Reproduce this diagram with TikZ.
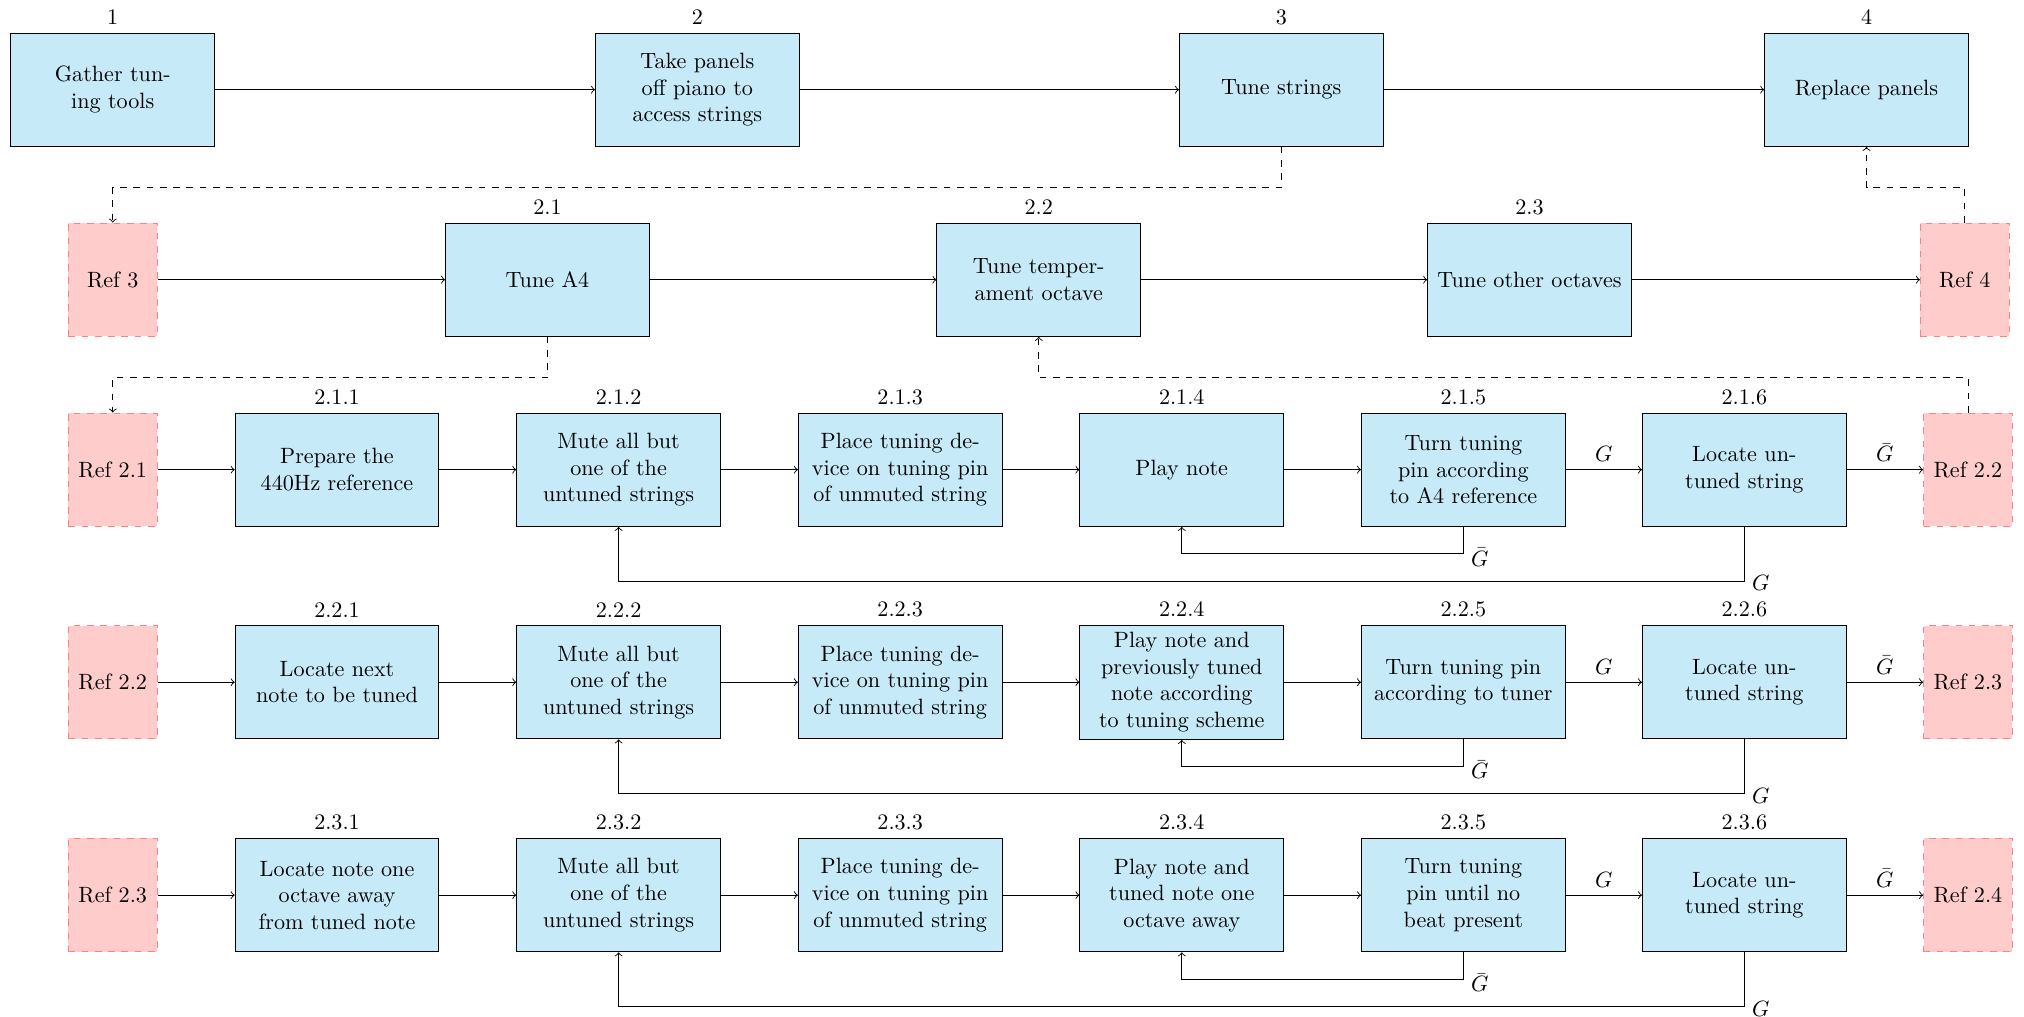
\documentclass[tikz,border=0pt]{standalone}
\usetikzlibrary{arrows}
\definecolor{stepblue}{RGB}{198,234,248}
\tikzset{
	stepbox/.style={draw=black, fill=stepblue, text width=3cm, align=center, minimum height=1.8cm},
	refbox/.style={draw=red!50, dashed, fill=red!20, minimum width=1.41cm, minimum height=1.8cm},
}
\begin{document}
\begin{tikzpicture}
		\useasboundingbox (0,0) rectangle (32.13,-16.13);
		% top level
		\node[stepbox, label=above:1] (n1) at (1.79,-1.424) {Gather tuning tools};
		\node[stepbox, label=above:2] (n2) at (11.07,-1.424) {Take panels off piano to access strings};
		\node[stepbox, label=above:3] (n3) at (20.34,-1.424) {Tune strings};
		\node[stepbox, label=above:4] (n4) at (29.63,-1.424) {Replace panels};
		\draw[->] (n1) -- (n2);
		\draw[->] (n2) -- (n3);
		\draw[->] (n3) -- (n4);
		% step 3
		\node[refbox] (r3) at (1.79,-4.44) {Ref 3};
		\node[stepbox, label=above:2.1] (n21) at (8.69,-4.44) {Tune A4};
		\node[stepbox, label=above:2.2] (n22) at (16.49,-4.44) {Tune temperament octave};
		\node[stepbox, label=above:2.3] (n23) at (24.28,-4.44) {Tune other octaves};
		\node[refbox] (r4) at (31.19,-4.44) {Ref 4};
		\draw[->] (r3) -- (n21);
		\draw[->] (n21) -- (n22);
		\draw[->] (n22) -- (n23);
		\draw[->] (n23) -- (r4);
		\draw[dashed,->] (n3.south) -- ++(0,-0.65) -| (r3.north);
		\draw[dashed,->] (r4.north) |- ([yshift=-0.65cm]n4.south) -- (n4.south);
		% step 2.1
		\def\ya{-7.456}
		\node[refbox] (r21) at (1.79,\ya) {Ref 2.1};
		\node[stepbox, label=above:2.1.1] (n211) at (5.35,\ya) {Prepare the 440Hz reference};
		\node[stepbox, label=above:2.1.2] (n212) at (9.82,\ya) {Mute all but one of the \mbox{untuned} strings};
		\node[stepbox, label=above:2.1.3] (n213) at (14.29,\ya) {Place tuning device on tuning pin of unmuted string};
		\node[stepbox, label=above:2.1.4] (n214) at (18.76,\ya) {Play note};
		\node[stepbox, label=above:2.1.5] (n215) at (23.23,\ya) {Turn tuning pin according to A4 reference};
		\node[stepbox, label=above:2.1.6] (n216) at (27.69,\ya) {Locate untuned string};
		\node[refbox] (r22) at (31.24,\ya) {Ref 2.2};
		\draw[->] (r21) -- (n211);
		\draw[->] (n211) -- (n212);
		\draw[->] (n212) -- (n213);
		\draw[->] (n213) -- (n214);
		\draw[->] (n214) -- (n215);
		\draw[->] (n215) -- node[above] {$G$} (n216);
		\draw[->] (n216) -- node[above] {$\bar{G}$} (r22);
		\draw[->] (n215.south) -- ++(0,-0.43) -| node[pos=0, right, yshift=-1.5pt] {$\bar{G}$} (n214.south);
		\draw[->] (n216.south) -- ++(0,-0.86) -| node[pos=0, right, yshift=-1pt] {$G$} (n212.south);
		\draw[dashed,->] (n21.south) -- ++(0,-0.65) -| (r21.north);
		\draw[dashed,->] (r22.north) |- ([yshift=-0.65cm]n22.south) -- (n22.south);
		% step 2.2
		\def\yb{-10.83}
		\node[refbox] (r22b) at (1.79,\yb) {Ref 2.2};
		\node[stepbox, label=above:2.2.1] (n221) at (5.35,\yb) {Locate next note to be tuned};
		\node[stepbox, label=above:2.2.2] (n222) at (9.82,\yb) {Mute all but one of the \mbox{untuned} strings};
		\node[stepbox, label=above:2.2.3] (n223) at (14.29,\yb) {Place tuning device on tuning pin of unmuted string};
		\node[stepbox, label=above:2.2.4] (n224) at (18.76,\yb) {Play note and previously tuned note according to tuning scheme};
		\node[stepbox, label=above:2.2.5] (n225) at (23.23,\yb) {Turn tuning pin according to tuner};
		\node[stepbox, label=above:2.2.6] (n226) at (27.69,\yb) {Locate untuned string};
		\node[refbox] (r23) at (31.24,\yb) {Ref 2.3};
		\draw[->] (r22b) -- (n221);
		\draw[->] (n221) -- (n222);
		\draw[->] (n222) -- (n223);
		\draw[->] (n223) -- (n224);
		\draw[->] (n224) -- (n225);
		\draw[->] (n225) -- node[above] {$G$} (n226);
		\draw[->] (n226) -- node[above] {$\bar{G}$} (r23);
		\draw[->] (n225.south) -- ++(0,-0.43) -| node[pos=0, right, yshift=-1.5pt] {$\bar{G}$} (n224.south);
		\draw[->] (n226.south) -- ++(0,-0.86) -| node[pos=0, right, yshift=-1pt] {$G$} (n222.south);
		% step 2.3
		\def\yc{-14.21}
		\node[refbox] (r23b) at (1.79,\yc) {Ref 2.3};
		\node[stepbox, label=above:2.3.1] (n231) at (5.35,\yc) {Locate note one octave away from tuned note};
		\node[stepbox, label=above:2.3.2] (n232) at (9.82,\yc) {Mute all but one of the \mbox{untuned} strings};
		\node[stepbox, label=above:2.3.3] (n233) at (14.29,\yc) {Place tuning device on tuning pin of unmuted string};
		\node[stepbox, label=above:2.3.4] (n234) at (18.76,\yc) {Play note and tuned note one octave away};
		\node[stepbox, label=above:2.3.5] (n235) at (23.23,\yc) {Turn tuning pin until no beat present};
		\node[stepbox, label=above:2.3.6] (n236) at (27.69,\yc) {Locate untuned string};
		\node[refbox] (r24) at (31.24,\yc) {Ref 2.4};
		\draw[->] (r23b) -- (n231);
		\draw[->] (n231) -- (n232);
		\draw[->] (n232) -- (n233);
		\draw[->] (n233) -- (n234);
		\draw[->] (n234) -- (n235);
		\draw[->] (n235) -- node[above] {$G$} (n236);
		\draw[->] (n236) -- node[above] {$\bar{G}$} (r24);
		\draw[->] (n235.south) -- ++(0,-0.43) -| node[pos=0, right, yshift=-1.5pt] {$\bar{G}$} (n234.south);
		\draw[->] (n236.south) -- ++(0,-0.86) -| node[pos=0, right, yshift=-1pt] {$G$} (n232.south);
	\end{tikzpicture}
\end{document}
